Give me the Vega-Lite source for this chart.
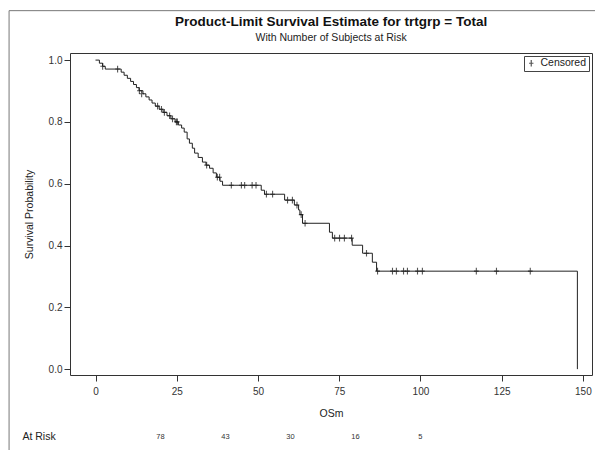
{
  "$schema": "https://vega.github.io/schema/vega-lite/v6.json",
  "width": 522,
  "height": 322,
  "autosize": {"type": "none"},
  "padding": {"left": 70, "top": 53, "right": 3, "bottom": 75},
  "background": "white",
  "datasets": {
    "km": [
      {"t": 0, "S": 1.0}, {"t": 1.2, "S": 0.99}, {"t": 2.2, "S": 0.98}, {"t": 3.0, "S": 0.971},
      {"t": 7.9, "S": 0.961}, {"t": 8.8, "S": 0.951}, {"t": 9.8, "S": 0.941}, {"t": 10.8, "S": 0.931},
      {"t": 11.7, "S": 0.921}, {"t": 12.6, "S": 0.911}, {"t": 13.4, "S": 0.901}, {"t": 14.6, "S": 0.891},
      {"t": 15.5, "S": 0.881}, {"t": 16.5, "S": 0.871}, {"t": 17.4, "S": 0.861}, {"t": 18.4, "S": 0.851},
      {"t": 19.6, "S": 0.841}, {"t": 20.8, "S": 0.831}, {"t": 22.0, "S": 0.82}, {"t": 23.2, "S": 0.81},
      {"t": 24.5, "S": 0.8}, {"t": 25.5, "S": 0.79}, {"t": 26.5, "S": 0.78}, {"t": 27.3, "S": 0.767},
      {"t": 28.2, "S": 0.745}, {"t": 28.9, "S": 0.731}, {"t": 29.8, "S": 0.715}, {"t": 30.5, "S": 0.699},
      {"t": 31.6, "S": 0.685}, {"t": 32.9, "S": 0.67}, {"t": 34.0, "S": 0.66}, {"t": 35.1, "S": 0.65},
      {"t": 36.2, "S": 0.635}, {"t": 37.2, "S": 0.621}, {"t": 38.3, "S": 0.608}, {"t": 39.1, "S": 0.595},
      {"t": 51.0, "S": 0.579}, {"t": 52.0, "S": 0.566}, {"t": 58.2, "S": 0.547}, {"t": 61.2, "S": 0.531},
      {"t": 62.5, "S": 0.515}, {"t": 62.9, "S": 0.5}, {"t": 63.7, "S": 0.472}, {"t": 72.0, "S": 0.443},
      {"t": 72.9, "S": 0.424}, {"t": 79.0, "S": 0.401}, {"t": 82.2, "S": 0.375}, {"t": 85.2, "S": 0.346},
      {"t": 86.5, "S": 0.317}, {"t": 148.3, "S": 0.0}
    ],
    "cens": [
      {"t": 2.2, "S": 0.98}, {"t": 6.8, "S": 0.971}, {"t": 13.5, "S": 0.901}, {"t": 14.2, "S": 0.891},
      {"t": 19.1, "S": 0.851}, {"t": 20.3, "S": 0.841}, {"t": 21.2, "S": 0.831}, {"t": 22.8, "S": 0.82},
      {"t": 23.7, "S": 0.81}, {"t": 24.9, "S": 0.8}, {"t": 25.2, "S": 0.8}, {"t": 34.2, "S": 0.66},
      {"t": 37.5, "S": 0.621}, {"t": 38.2, "S": 0.621}, {"t": 41.8, "S": 0.595}, {"t": 44.9, "S": 0.595},
      {"t": 45.9, "S": 0.595}, {"t": 48.2, "S": 0.595}, {"t": 49.4, "S": 0.595}, {"t": 52.6, "S": 0.566},
      {"t": 54.5, "S": 0.566}, {"t": 59.1, "S": 0.547}, {"t": 60.6, "S": 0.547}, {"t": 62.0, "S": 0.531},
      {"t": 63.3, "S": 0.5}, {"t": 64.5, "S": 0.472}, {"t": 73.6, "S": 0.424}, {"t": 75.1, "S": 0.424},
      {"t": 76.6, "S": 0.424}, {"t": 78.8, "S": 0.424}, {"t": 83.4, "S": 0.375}, {"t": 86.8, "S": 0.317},
      {"t": 91.4, "S": 0.317}, {"t": 92.6, "S": 0.317}, {"t": 94.8, "S": 0.317}, {"t": 96.0, "S": 0.317},
      {"t": 99.1, "S": 0.317}, {"t": 100.6, "S": 0.317}, {"t": 117.2, "S": 0.317}, {"t": 123.4, "S": 0.317},
      {"t": 133.8, "S": 0.317}
    ],
    "risk": [
      {"t": 20, "n": "78"}, {"t": 40, "n": "43"}, {"t": 60, "n": "30"}, {"t": 80, "n": "16"}, {"t": 100, "n": "5"}
    ],
    "risklabel": [{"t": -22.5, "n": "At Risk"}],
    "titles": [
      {"t": 72.5, "S": 1.123, "txt": "Product-Limit Survival Estimate for trtgrp = Total", "kind": "main"},
      {"t": 72.5, "S": 1.07, "txt": "With Number of Subjects at Risk", "kind": "sub"}
    ]
  },
  "config": {
    "font": "Liberation Sans",
    "view": {"stroke": "#333", "strokeWidth": 1},
    "axis": {
      "grid": false,
      "domain": false,
      "tickColor": "#333",
      "tickSize": 6,
      "labelColor": "#333",
      "labelFontSize": 10,
      "titleFontSize": 10.5,
      "titleFontWeight": "normal",
      "titleColor": "#222"
    },
    "legend": {
      "orient": "top-right",
      "offset": 3,
      "padding": 2,
      "strokeColor": "#444",
      "labelFontSize": 10.5,
      "labelColor": "#222",
      "title": null,
      "symbolStrokeColor": "#111",
      "symbolStrokeWidth": 1.2,
      "symbolSize": 40,
      "rowPadding": 0
    }
  },
  "layer": [
    {
      "data": {"name": "km"},
      "mark": {"type": "line", "interpolate": "step-after", "color": "#222", "strokeWidth": 1},
      "encoding": {
        "x": {"field": "t", "type": "quantitative", "title": "OSm",
              "scale": {"domain": [-7.85, 152.8], "nice": false, "zero": false},
              "axis": {"values": [0, 25, 50, 75, 100, 125, 150], "labelPadding": 5, "titlePadding": 12}},
        "y": {"field": "S", "type": "quantitative", "title": "Survival Probability",
              "scale": {"domain": [-0.019, 1.023], "nice": false, "zero": false},
              "axis": {"values": [0, 0.2, 0.4, 0.6, 0.8, 1.0], "format": ".1f", "labelPadding": 2, "titlePadding": 14}}
      }
    },
    {
      "data": {"name": "cens"},
      "mark": {"type": "point", "filled": false, "strokeWidth": 1.1, "size": 45, "color": "#111"},
      "encoding": {
        "x": {"field": "t", "type": "quantitative", "title": "OSm"},
        "y": {"field": "S", "type": "quantitative", "title": "Survival Probability"},
        "shape": {"datum": "Censored", "scale": {"range": ["M-0.7,0L0.7,0M0,-1L0,1"]}}
      }
    },
    {
      "data": {"name": "risk"},
      "mark": {"type": "text", "fontSize": 7.5, "color": "#333"},
      "encoding": {
        "x": {"field": "t", "type": "quantitative", "title": "OSm"},
        "y": {"datum": -0.22},
        "text": {"field": "n"}
      }
    },
    {
      "data": {"name": "risklabel"},
      "mark": {"type": "text", "fontSize": 10.5, "color": "#222", "align": "left"},
      "encoding": {
        "x": {"field": "t", "type": "quantitative", "title": "OSm"},
        "y": {"datum": -0.22},
        "text": {"field": "n"}
      }
    },
    {
      "data": {"name": "titles"},
      "transform": [{"filter": "datum.kind === 'main'"}],
      "mark": {"type": "text", "fontSize": 13.5, "fontWeight": "bold", "color": "#111", "baseline": "middle"},
      "encoding": {
        "x": {"field": "t", "type": "quantitative", "title": "OSm"},
        "y": {"field": "S", "type": "quantitative", "title": "Survival Probability"},
        "text": {"field": "txt"}
      }
    },
    {
      "data": {"name": "titles"},
      "transform": [{"filter": "datum.kind === 'sub'"}],
      "mark": {"type": "text", "fontSize": 10.5, "color": "#222", "baseline": "middle"},
      "encoding": {
        "x": {"field": "t", "type": "quantitative", "title": "OSm"},
        "y": {"field": "S", "type": "quantitative", "title": "Survival Probability"},
        "text": {"field": "txt"}
      }
    },
    {
      "data": {"values": [{}]},
      "mark": {"type": "rect", "fillOpacity": 0, "stroke": "#777", "strokeWidth": 1},
      "encoding": {
        "x": {"datum": -26.6},
        "x2": {"datum": 200},
        "y": {"datum": 1.16},
        "y2": {"datum": -0.5}
      }
    }
  ]
}
